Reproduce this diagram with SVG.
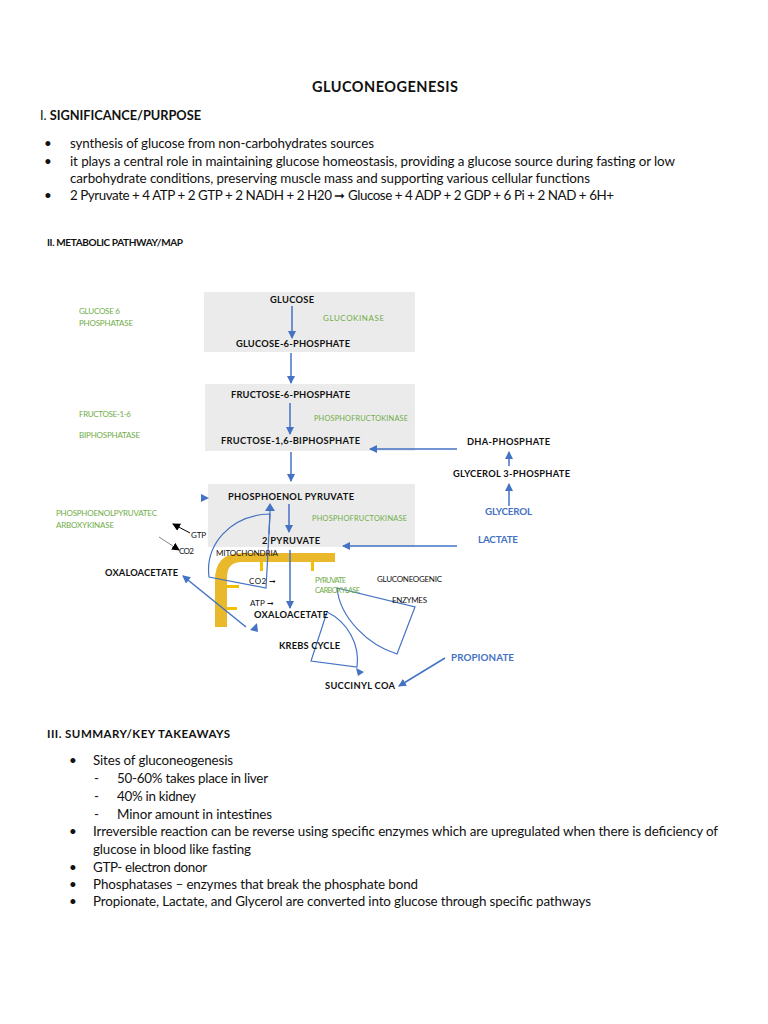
<svg xmlns="http://www.w3.org/2000/svg" width="768" height="1024" viewBox="0 0 768 1024">
<style>
text{font-family:Lato,"Liberation Sans",sans-serif;fill:#111}
.body{font-size:13.4px}
.h{font-size:11.5px;font-weight:bold}
.lb{font-size:9.3px;font-weight:bold}
.g{font-size:8px;fill:#70ad47}
.gs{font-size:7.4px;fill:#70ad47}
.bl{font-size:9.8px;font-weight:bold;fill:#4472c4}
.sm{font-size:8px}
.box{fill:#ebebeb}
.c{stroke:#4472c4;stroke-width:1.5;fill:none}
.t{stroke:#4472c4;stroke-width:1.2;fill:none}
</style>
<defs>
<marker id="a" markerWidth="8" markerHeight="8" refX="7" refY="4" orient="auto" markerUnits="userSpaceOnUse"><path d="M0,0 L8,4 L0,8 Z" fill="#4472c4"/></marker>
<marker id="k" markerWidth="8" markerHeight="8" refX="7" refY="4" orient="auto" markerUnits="userSpaceOnUse"><path d="M0,0 L8,4 L0,8 Z" fill="#000"/></marker>
</defs>
<rect width="768" height="1024" fill="#fff"/>

<g id="header">
<text x="385" y="92" text-anchor="middle" font-size="14.5" font-weight="bold" textLength="146">GLUCONEOGENESIS</text>
<text x="40" y="120" font-size="12.8" textLength="161"><tspan font-weight="normal">I. </tspan><tspan font-weight="bold">SIGNIFICANCE/PURPOSE</tspan></text>
<text x="44" y="148" class="body">•</text>
<text x="70" y="148" class="body" textLength="304">synthesis of glucose from non-carbohydrates sources</text>
<text x="44" y="166" class="body">•</text>
<text x="70" y="166" class="body" textLength="605">it plays a central role in maintaining glucose homeostasis, providing a glucose source during fasting or low</text>
<text x="70" y="183" class="body" textLength="520">carbohydrate conditions, preserving muscle mass and supporting various cellular functions</text>
<text x="44" y="200" class="body">•</text>
<text x="70" y="200" class="body" textLength="544">2 Pyruvate + 4 ATP + 2 GTP + 2 NADH + 2 H20 ➞ Glucose + 4 ADP + 2 GDP + 6 Pi + 2 NAD + 6H+</text>
<text x="47" y="246" font-size="10" font-weight="bold" textLength="136">II. METABOLIC PATHWAY/MAP</text>
</g>

<g id="boxes">
<rect class="box" x="204" y="292" width="211" height="60"/>
<rect class="box" x="205" y="384" width="210" height="67"/>
<rect class="box" x="208" y="484" width="207" height="63"/>
</g>

<g id="mitochondria">
<path d="M215,627 L215,580 Q215,553 242,553 L335,553 L335,562 L242,562 Q227,562 227,577 L227,627 Z" fill="#e9b92b"/>
<rect x="260" y="562" width="3" height="9" fill="#f2c200"/>
<rect x="311" y="562" width="3" height="9" fill="#f2c200"/>
<rect x="227" y="585" width="12" height="3" fill="#f2c200"/>
<rect x="227" y="607" width="10" height="3" fill="#f2c200"/>
</g>

<g id="connectors">
<line class="c" x1="292" y1="306" x2="292" y2="338" marker-end="url(#a)"/>
<line class="c" x1="291" y1="353" x2="291" y2="383" marker-end="url(#a)"/>
<line class="c" x1="290" y1="403" x2="290" y2="434" marker-end="url(#a)"/>
<line class="c" x1="291" y1="452" x2="291" y2="481" marker-end="url(#a)"/>
<line class="c" x1="289" y1="504" x2="289" y2="532" marker-end="url(#a)"/>
<line class="c" x1="290" y1="550" x2="290" y2="608" marker-end="url(#a)"/>
<line class="c" x1="457" y1="449" x2="370" y2="449" marker-end="url(#a)"/>
<line class="c" x1="509" y1="466" x2="509" y2="452" marker-end="url(#a)"/>
<line class="c" x1="509" y1="506" x2="509" y2="484" marker-end="url(#a)"/>
<line class="c" x1="457" y1="546" x2="343" y2="546" marker-end="url(#a)"/>
<line class="c" x1="246" y1="627" x2="183" y2="576" marker-end="url(#a)"/>
<line class="c" x1="445" y1="658" x2="399" y2="686" marker-end="url(#a)"/>
<path d="M201,494 L209,498 L201,502 Z" fill="#4472c4"/>
<path d="M250,630 L257,623 L258,632 Z" fill="#4472c4"/>
<path d="M356,668 L364,672 L358,676 Z" fill="#4472c4"/>
<line x1="190" y1="533" x2="173" y2="524" stroke="#000" stroke-width="1" marker-end="url(#k)"/>
<line x1="159" y1="537" x2="179" y2="550" stroke="#888" stroke-width="1" marker-end="url(#k)"/>
<path class="t" d="M209,577 C205,545 230,515 270,514 L266,588 Z"/>
<path d="M265,511 L270,503 L275,511 Z" fill="#4472c4"/>
<line class="t" x1="270" y1="511" x2="269" y2="534"/>
<path class="t" d="M327,612 C348,622 360,645 357,667 L311,661 Z"/>
<path class="t" d="M337,588 C340,618 368,645 397,654 L415,607 Z"/>
</g>

<g id="labels">
<text class="lb" x="270" y="303" textLength="44">GLUCOSE</text>
<text class="g" x="323" y="321" textLength="61">GLUCOKINASE</text>
<text class="lb" x="236" y="347" textLength="114">GLUCOSE-6-PHOSPHATE</text>
<text class="lb" x="231" y="398" textLength="119">FRUCTOSE-6-PHOSPHATE</text>
<text class="gs" x="314" y="421" textLength="94">PHOSPHOFRUCTOKINASE</text>
<text class="lb" x="221" y="444" textLength="139">FRUCTOSE-1,6-BIPHOSPHATE</text>
<text class="lb" x="467" y="445" textLength="83">DHA-PHOSPHATE</text>
<text class="lb" x="453" y="477" textLength="117">GLYCEROL 3-PHOSPHATE</text>
<text class="bl" x="485" y="515" textLength="47">GLYCEROL</text>
<text class="bl" x="478" y="543" textLength="40">LACTATE</text>
<text class="lb" x="228" y="500" textLength="126">PHOSPHOENOL PYRUVATE</text>
<text class="gs" x="312" y="521" textLength="95">PHOSPHOFRUCTOKINASE</text>
<text class="lb" x="262" y="544" textLength="58">2 PYRUVATE</text>
<text class="sm" x="216" y="556" textLength="62">MITOCHONDRIA</text>
<text class="sm" x="191" y="538" textLength="15">GTP</text>
<text class="sm" x="179" y="554" textLength="15">CO2</text>
<text class="lb" x="105" y="576" textLength="73">OXALOACETATE</text>
<text class="sm" x="249" y="584" textLength="27">CO2 ➞</text>
<text class="sm" x="250" y="606" textLength="24">ATP ➞</text>
<text class="lb" x="254" y="618" textLength="74">OXALOACETATE</text>
<text class="gs" x="315" y="583" font-size="6.3" textLength="31">PYRUVATE</text>
<text class="gs" x="315" y="593" font-size="6.3" textLength="45">CARBOXYLASE</text>
<text class="sm" x="377" y="582" textLength="65">GLUCONEOGENIC</text>
<text class="sm" x="392" y="603" textLength="35">ENZYMES</text>
<text class="lb" x="279" y="649" textLength="61">KREBS CYCLE</text>
<text class="bl" x="451" y="661" textLength="63">PROPIONATE</text>
<text class="lb" x="325" y="689" textLength="70">SUCCINYL COA</text>
<text class="g" x="79" y="314" textLength="41">GLUCOSE 6</text>
<text class="g" x="79" y="326" textLength="54">PHOSPHATASE</text>
<text class="g" x="79" y="417" textLength="52">FRUCTOSE-1-6</text>
<text class="g" x="79" y="438" textLength="61">BIPHOSPHATASE</text>
<text class="g" x="56" y="516" textLength="101">PHOSPHOENOLPYRUVATEC</text>
<text class="g" x="56" y="528" textLength="58">ARBOXYKINASE</text>
</g>

<g id="summary">
<text x="47" y="738" class="h" textLength="183">III. SUMMARY/KEY TAKEAWAYS</text>
<text x="69" y="765" class="body">•</text>
<text x="93" y="765" class="body" textLength="140">Sites of gluconeogenesis</text>
<text x="94" y="783" class="body">-</text>
<text x="117" y="783" class="body" textLength="151">50-60% takes place in liver</text>
<text x="94" y="801" class="body">-</text>
<text x="117" y="801" class="body" textLength="79">40% in kidney</text>
<text x="94" y="819" class="body">-</text>
<text x="117" y="819" class="body" textLength="155">Minor amount in intestines</text>
<text x="69" y="836" class="body">•</text>
<text x="93" y="836" class="body" textLength="625">Irreversible reaction can be reverse using specific enzymes which are upregulated when there is deficiency of</text>
<text x="93" y="854" class="body" textLength="158">glucose in blood like fasting</text>
<text x="69" y="872" class="body">•</text>
<text x="93" y="872" class="body" textLength="114">GTP- electron donor</text>
<text x="69" y="889" class="body">•</text>
<text x="93" y="889" class="body" textLength="325">Phosphatases – enzymes that break the phosphate bond</text>
<text x="69" y="906" class="body">•</text>
<text x="93" y="906" class="body" textLength="498">Propionate, Lactate, and Glycerol are converted into glucose through specific pathways</text>
</g>
</svg>
